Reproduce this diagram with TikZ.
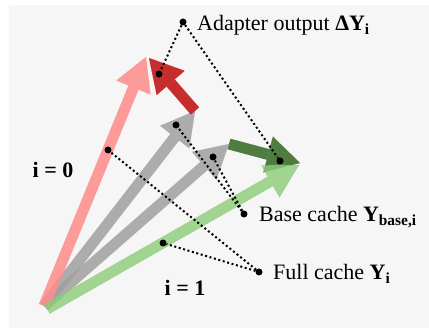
\documentclass[tikz,border=0pt]{standalone}
\usepackage{fontspec}
\setmainfont{Liberation Serif}
\usetikzlibrary{arrows.meta}
\definecolor{bgcol}{RGB}{246,246,246}
\definecolor{pinkcol}{RGB}{255,140,140}
\definecolor{redcol}{RGB}{200,45,45}
\definecolor{graycol}{RGB}{160,160,160}
\definecolor{dgreencol}{RGB}{72,118,56}
\definecolor{lgreencol}{RGB}{140,204,120}
\newcommand{\lblfont}{\fontsize{22}{26}\selectfont}

\begin{document}
\begin{tikzpicture}[x=1pt,y=-1pt,
  vec/.style={line width=11pt,-{Triangle[length=33pt,width=37pt,line width=0.01pt]}},
  pt/.style={circle,fill=black,inner sep=0pt,minimum size=7pt},
  lbl/.style={anchor=base west,inner sep=0pt,font=\lblfont},
  idx/.style={anchor=base,inner sep=0pt,font=\lblfont\bfseries},
  link/.style={line width=2pt,dash pattern=on 2pt off 2.6pt}]
\useasboundingbox (0,0) rectangle (429,331);
\fill[bgcol] (9,5) rectangle (429,328);
% start and end points of the vectors
\coordinate (o) at (44,306);
\coordinate (og) at (47,309);
\coordinate (t0) at (146,57);
\coordinate (b0) at (195,111);
\coordinate (b1) at (229,144);
\coordinate (t1) at (300,163);
% base cache
\draw[vec,graycol,opacity=.85] (o)--(b0);
\draw[vec,graycol,opacity=.85] (o)--(b1);
% full cache, i = 0
\draw[vec,pinkcol,opacity=.85] (o)--(t0);
% adapter outputs
\draw[vec,redcol] (b0)--(149,58);
\draw[vec,dgreencol,opacity=.95] (b1)--(t1);
% full cache, i = 1
\draw[vec,lgreencol,opacity=.8] (og)--(299,165);

\node[pt] (d0) at (159,74) {};
\node[pt] (d1) at (280,161) {};
\node[pt] (g0) at (176,125) {};
\node[pt] (g1) at (213,157) {};
\node[pt] (f0) at (108,150) {};
\node[pt] (f1) at (163,243) {};

\node[pt] (ad) at (183,22) {};
\node[pt] (bc) at (244,214) {};
\node[pt] (fc) at (259,272) {};

\draw[link] (ad)--(d0);
\draw[link] (ad)--(d1);
\draw[link] (bc)--(g0);
\draw[link] (bc)--(g1);
\draw[link] (fc)--(f0);
\draw[link] (fc)--(f1);

\node[lbl] (adl) at (197,31) {Adapter output \textbf{ΔY\textsubscript{i}}};
\node[lbl] (bcl) at (259,222) {Base cache \textbf{Y\textsubscript{base,i}}};
\node[lbl] (fcl) at (273,280) {Full cache \textbf{Y\textsubscript{i}}};
\node[idx] (lab0) at (53,178) {i = 0};
\node[idx] (lab1) at (185,296) {i = 1};
\end{tikzpicture}
\end{document}
